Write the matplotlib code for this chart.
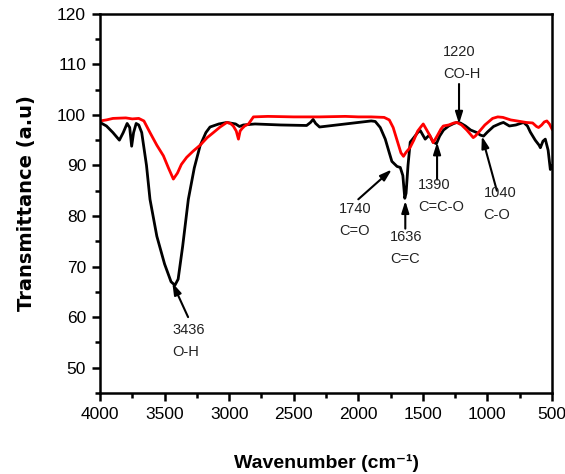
# ============================================================
# Spectre IR (FTIR) – transmittance vs nombre d'onde
# ============================================================

import matplotlib
matplotlib.use("Agg")
import matplotlib.pyplot as plt
from matplotlib.ticker import MultipleLocator
from matplotlib.transforms import ScaledTranslation

plt.rcParams["font.family"] = ["Liberation Sans", "DejaVu Sans"]

# ------------------------------------------------------------
# 1. Données
# ------------------------------------------------------------
wn_black = [4000, 3950, 3900, 3850, 3820, 3790, 3770, 3755, 3740, 3720,
            3700, 3677, 3640, 3613, 3560, 3500, 3450, 3420, 3395, 3360,
            3316, 3270, 3225, 3180, 3148, 3080, 3018, 2950, 2920, 2890,
            2800, 2600, 2400, 2370, 2350, 2330, 2300, 2200, 2100, 2000,
            1900, 1869, 1830, 1791, 1760, 1740, 1700, 1675, 1655, 1640,
            1630, 1615, 1598, 1570, 1540, 1520, 1500, 1482, 1450, 1420,
            1395, 1370, 1340, 1300, 1260, 1237, 1210, 1170, 1130, 1082,
            1055, 1030, 1000, 953, 900, 876, 830, 780, 720, 690,
            668, 630, 600, 590, 570, 552, 530, 513, 505, 500]
tr_black = [98.5, 97.8, 96.5, 95.0, 96.5, 98.3, 97.5, 93.8, 96.5, 98.3,
            98.0, 96.5, 90.0, 83.3, 76.0, 70.5, 67.0, 66.3, 67.5, 74.0,
            83.3, 89.5, 93.9, 96.5, 97.6, 98.2, 98.5, 98.2, 97.7, 98.0,
            98.2, 98.0, 97.9, 98.5, 99.1, 98.3, 97.6, 97.9, 98.2, 98.5,
            98.8, 98.7, 97.5, 95.2, 92.5, 90.8, 89.8, 89.6, 88.0, 83.5,
            84.5, 90.0, 94.6, 95.5, 96.5, 96.9, 96.0, 95.2, 96.0, 94.6,
            94.3, 95.8, 97.0, 97.8, 98.3, 98.5, 98.4, 97.8, 97.0, 96.5,
            96.0, 95.8, 96.6, 97.7, 98.3, 98.5, 97.8, 98.0, 98.5, 97.8,
            96.6, 95.0, 94.0, 93.5, 94.8, 95.2, 93.0, 89.2, 90.0, 89.5]

wn_red = [4000, 3950, 3900, 3800, 3750, 3700, 3660, 3613, 3560, 3509,
          3470, 3432, 3400, 3370, 3329, 3280, 3225, 3170, 3122, 3070,
          3018, 2990, 2968, 2945, 2928, 2915, 2900, 2880, 2850, 2812,
          2700, 2500, 2300, 2100, 2000, 1900, 1800, 1760, 1730, 1700,
          1670, 1650, 1630, 1600, 1570, 1540, 1510, 1497, 1470, 1443,
          1420, 1390, 1360, 1342, 1300, 1260, 1237, 1200, 1160, 1133,
          1110, 1094, 1060, 1020, 960, 920, 880, 820, 771, 700,
          650, 620, 604, 580, 560, 540, 520, 500]
tr_red = [98.8, 99.0, 99.3, 99.4, 99.2, 99.3, 98.8, 96.5, 94.0, 91.9,
          89.5, 87.3, 88.5, 90.2, 91.6, 92.8, 94.0, 95.5, 96.5, 97.6,
          98.5, 98.3, 97.8, 96.8, 95.2, 96.8, 97.3, 97.8, 98.2, 99.6,
          99.7, 99.6, 99.6, 99.7, 99.6, 99.6, 99.5, 99.0, 97.5, 95.0,
          92.5, 91.8, 92.6, 93.5, 95.0, 96.8, 97.8, 98.2, 97.0, 95.8,
          94.5, 95.8, 97.2, 97.8, 98.0, 98.4, 98.5, 98.0, 97.0, 96.2,
          95.5, 95.8, 96.8, 98.0, 99.3, 99.6, 99.5, 99.0, 98.8, 98.5,
          98.4, 97.7, 97.5, 98.0, 98.6, 98.8, 98.2, 97.2]

# bandes : texte, pointe, queue, position du texte, ha, va
bandes = [
    ("3436\nO-H", (3440, 66.8), (3318, 60.0), (3440, 58.8), "left", "top"),
    ("1740\nC=O", (1740, 89.2), (2000, 83.3), (2150, 82.8), "left", "top"),
    ("1636\nC=C", (1636, 83.0), (1636, 77.5), (1755, 77.3), "left", "top"),
    ("1390\nC=C-O", (1390, 94.6), (1390, 87.2), (1535, 87.5), "left", "top"),
    ("1220\nCO-H", (1220, 98.2), (1220, 106.1), (1200, 106.6), "center", "bottom"),
    ("1040\nC-O", (1043, 95.8), (927, 85.0), (1030, 86.0), "left", "top"),
]

# ------------------------------------------------------------
# 2. Figure
# ------------------------------------------------------------
fig = plt.figure(figsize=(5.65, 4.74), dpi=100)
ax = fig.add_axes([0.177, 0.171, 0.800, 0.800])

ax.plot(wn_black, tr_black, color="black", lw=2.0)
ax.plot(wn_red, tr_red, color="red", lw=2.0)

for texte, pointe, queue, pos, ha, va in bandes:
    ax.annotate("", xy=pointe, xytext=queue,
                arrowprops=dict(arrowstyle="-|>,head_length=0.7,head_width=0.22",
                                color="black", lw=1.5, shrinkA=0, shrinkB=0))
    ax.text(pos[0], pos[1], texte, ha=ha, va=va, fontsize=10.5,
            linespacing=1.75, color="#222222", multialignment="left")

# ------------------------------------------------------------
# 3. Axes
# ------------------------------------------------------------
ax.set_xlim(4000, 500)
ax.set_ylim(45, 120)
ax.xaxis.set_major_locator(MultipleLocator(500))
ax.xaxis.set_minor_locator(MultipleLocator(250))
ax.yaxis.set_minor_locator(MultipleLocator(5))
ax.set_yticks([50, 60, 70, 80, 90, 100, 110, 120])

for s in ax.spines.values():
    s.set_linewidth(1.8)
ax.tick_params(which="major", direction="out", length=6, width=1.8,
               labelsize=12.5, pad=4)
ax.tick_params(which="minor", direction="out", length=3.5, width=1.8)

# le dernier label (500) est collé au bord droit : léger décalage
dernier = ax.get_xticklabels()[-1]
dernier.set_transform(dernier.get_transform()
                      + ScaledTranslation(-3 / 100, 0, fig.dpi_scale_trans))

ax.set_xlabel("Wavenumber (cm⁻¹)", fontsize=14, fontweight="bold", labelpad=23)
ax.set_ylabel("Transmittance (a.u)", fontsize=14, fontweight="bold",
              family="DejaVu Sans", labelpad=15)

fig.savefig("out.png", dpi=100)
